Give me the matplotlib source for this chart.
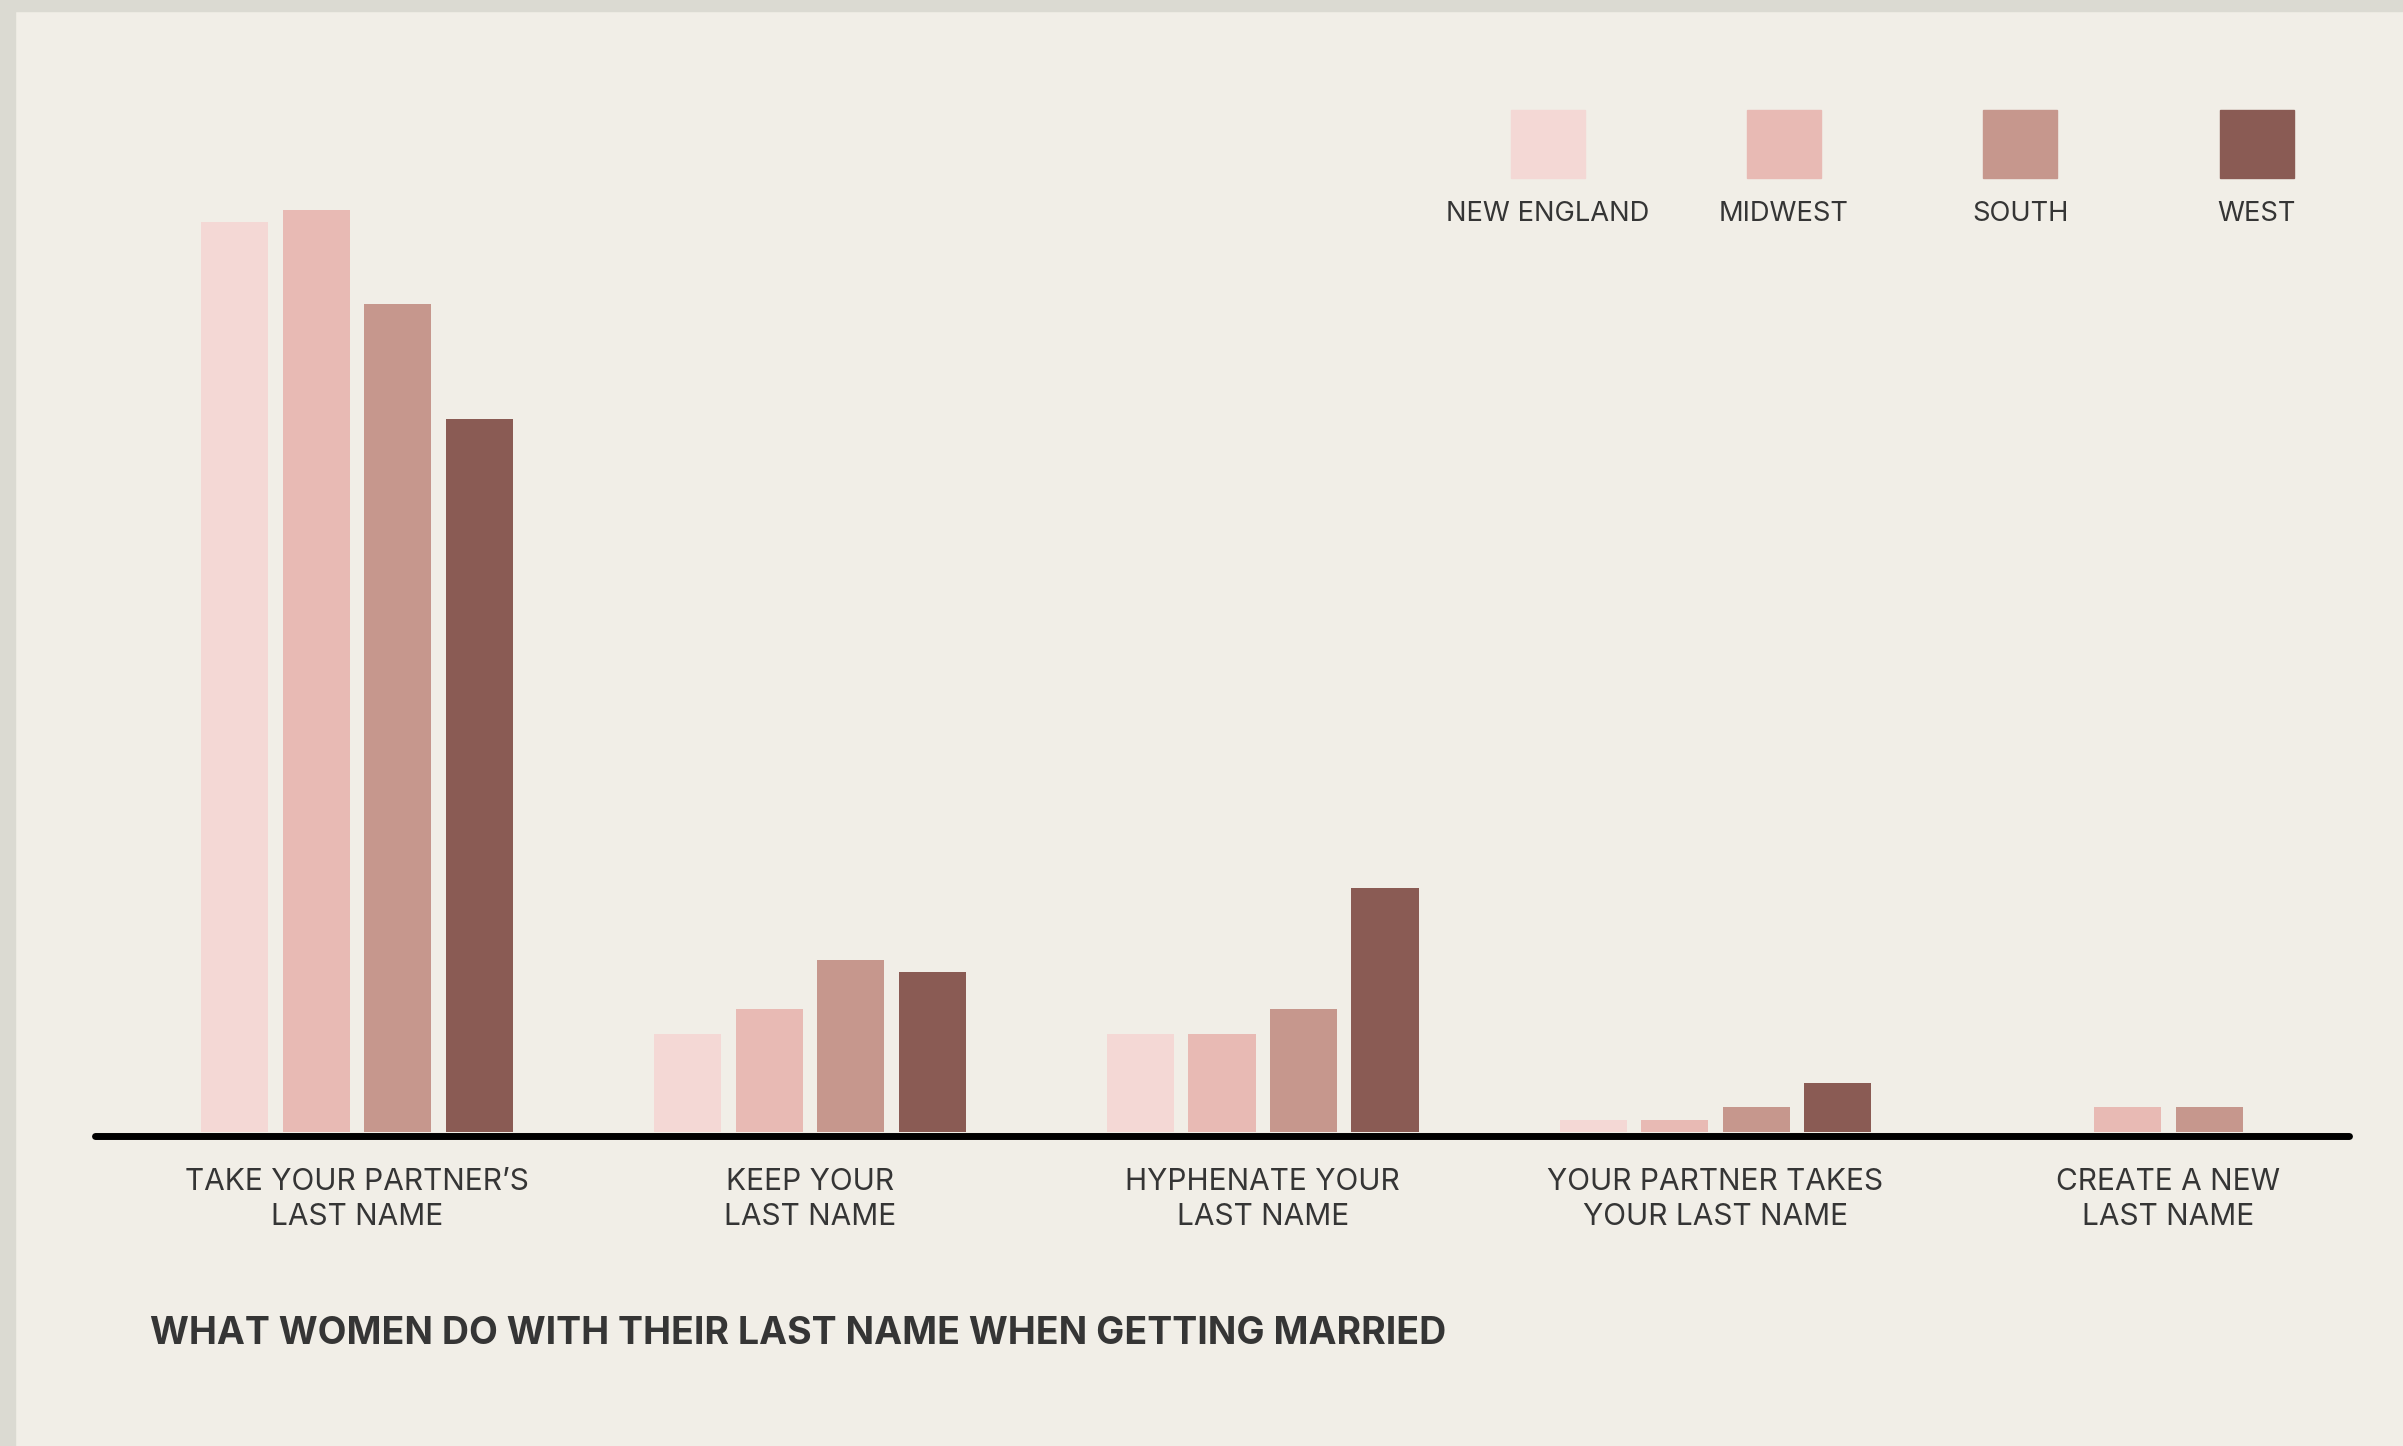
import matplotlib
matplotlib.use("Agg")
import matplotlib.pyplot as plt
from matplotlib.patches import Rectangle
import numpy as np

plt.rcParams['font.family'] = ['Inter', 'DejaVu Sans']

# share of women (%) by choice and region
choices = ["TAKE YOUR PARTNER\u2019S\nLAST NAME", "KEEP YOUR\nLAST NAME",
           "HYPHENATE YOUR\nLAST NAME", "YOUR PARTNER TAKES\nYOUR LAST NAME",
           "CREATE A NEW\nLAST NAME"]
regions = ["NEW ENGLAND", "MIDWEST", "SOUTH", "WEST"]
new_england = [74, 8, 8, 1, 0]
midwest = [75, 10, 8, 1, 2]
south = [67.3, 14, 10, 2, 2]
west = [58, 13, 19.8, 4, 0]
colors = ["#f4d8d5", "#e8bab4", "#c6978d", "#8a5b54"]

bg = "#f1eee7"
txt = "#353535"

fig = plt.figure(figsize=(24.03, 14.46), dpi=100, facecolor=bg)

# grey frame strips at top and left
fig.add_artist(Rectangle((0, 1 - 11 / 1446), 1, 11 / 1446, transform=fig.transFigure,
                         color="#dbdad2", zorder=0))
fig.add_artist(Rectangle((0, 0), 15 / 2403, 1, transform=fig.transFigure,
                         color="#dbdad2", zorder=0))

ax = fig.add_axes([95 / 2403, 314 / 1446, 2254 / 2403, 984 / 1446])
ax.set_facecolor("none")

x = np.arange(len(choices))
width = 0.148
step = 0.18
series = [new_england, midwest, south, west]
for i, vals in enumerate(series):
    ax.bar(x + (i - 1.5) * step, vals, width, color=colors[i], zorder=2)

ax.set_xlim(-0.579, 4.399)
ax.set_ylim(0, 80)
ax.axhline(-0.29, color="black", lw=5, solid_capstyle="round", clip_on=False, zorder=3)

ax.set_xticks(x)
ax.set_xticklabels(choices, fontsize=21.5, color=txt, linespacing=1.3)
ax.tick_params(axis="x", length=0, pad=26)
ax.set_yticks([])
for s in ax.spines.values():
    s.set_visible(False)

# legend: swatch above label
leg_x = [1548, 1784, 2020, 2257]
for i, name in enumerate(regions):
    cx = leg_x[i] / 2403
    fig.add_artist(Rectangle((cx - 37 / 2403, 1 - 178 / 1446), 74 / 2403, 68 / 1446,
                             transform=fig.transFigure, color=colors[i]))
    fig.text(cx, 1 - 214 / 1446, name, ha="center", va="center", fontsize=19.7, color=txt)

fig.text(150 / 2403, 1 - 1334 / 1446, "WHAT WOMEN DO WITH THEIR LAST NAME WHEN GETTING MARRIED",
         ha="left", va="center", fontsize=27, fontweight="bold", color=txt)

fig.savefig("out.png", dpi=100, facecolor=bg)
